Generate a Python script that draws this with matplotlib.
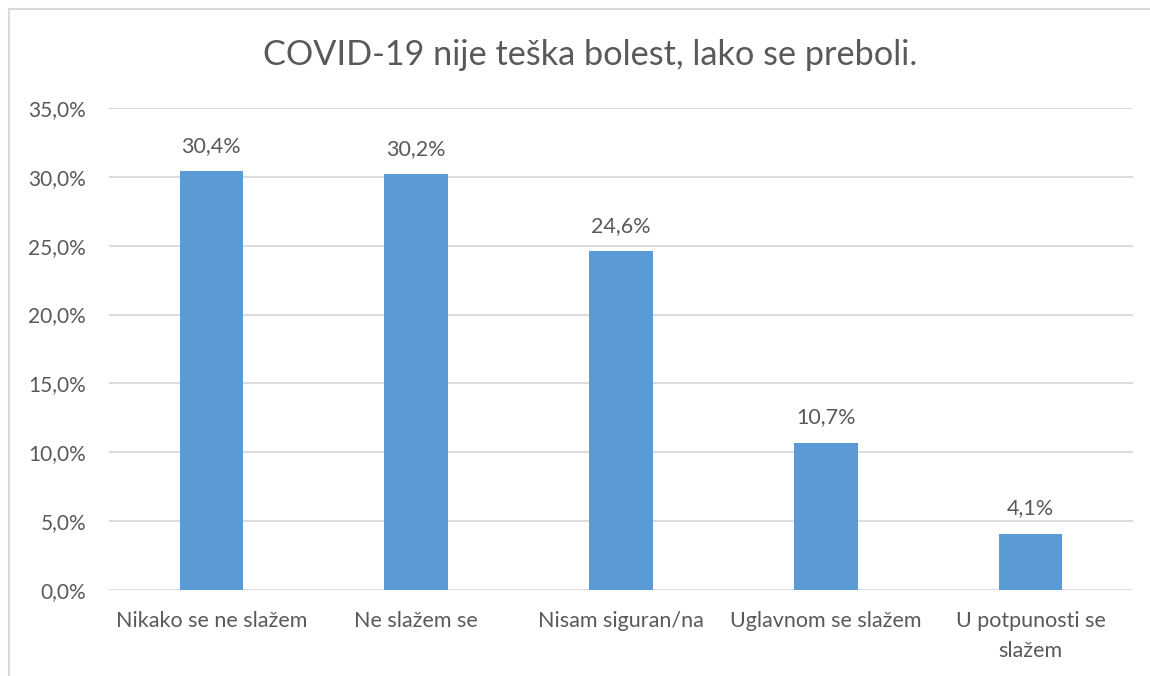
import matplotlib
matplotlib.use("Agg")
import matplotlib.pyplot as plt
from matplotlib.ticker import FuncFormatter, MultipleLocator

categories = ["Nikako se ne slažem", "Ne slažem se", "Nisam siguran/na",
              "Uglavnom se slažem", "U potpunosti se\nslažem"]
values = [30.4, 30.2, 24.6, 10.7, 4.1]
title = "COVID-19 nije teška bolest, lako se preboli."

plt.rcParams['font.family'] = ['Lato', 'DejaVu Sans']
txt = "#595959"
bar_c = "#5B9BD5"
grid_c = "#D9D9D9"

fig = plt.figure(figsize=(11.5, 6.76), dpi=100)
ax = fig.add_axes([109/1150, 1-590/676, (1133-109)/1150, (590-108)/676])

x = range(len(categories))
bars = ax.bar(x, values, width=0.31, color=bar_c, zorder=3)
ax.set_xlim(-0.5, len(categories)-0.5)
ax.set_ylim(0, 35)
ax.yaxis.set_major_locator(MultipleLocator(5))
ax.yaxis.set_major_formatter(FuncFormatter(lambda v, p: f"{v:.1f}%".replace(".", ",")))
ax.grid(axis='y', color=grid_c, linewidth=1.3, zorder=0)
for s in ax.spines.values():
    s.set_visible(False)
ax.tick_params(axis='y', length=0, labelsize=15, colors=txt, pad=16.5)
ax.tick_params(axis='x', length=0, labelsize=15.5, colors=txt, pad=15)
ax.set_xticks(list(x))
ax.set_xticklabels(categories, linespacing=1.65)

for xi, v in zip(x, values):
    ax.annotate(f"{v:.1f}%".replace(".", ","), (xi, v), xytext=(0, 11),
                textcoords='offset points', ha='center', va='bottom',
                fontsize=15.5, color=txt)

fig.text(590/1150, 1-55/676, title, ha='center', va='center', fontsize=24.7, color=txt)

# chart border (partially visible)
fig.add_artist(plt.Line2D([9/1150, 9/1150], [0, 1-9/676], transform=fig.transFigure,
                          color=grid_c, linewidth=1.5))
fig.add_artist(plt.Line2D([9/1150, 1], [1-9/676, 1-9/676], transform=fig.transFigure,
                          color=grid_c, linewidth=1.5))

fig.savefig("out.png", dpi=100, facecolor="white")
